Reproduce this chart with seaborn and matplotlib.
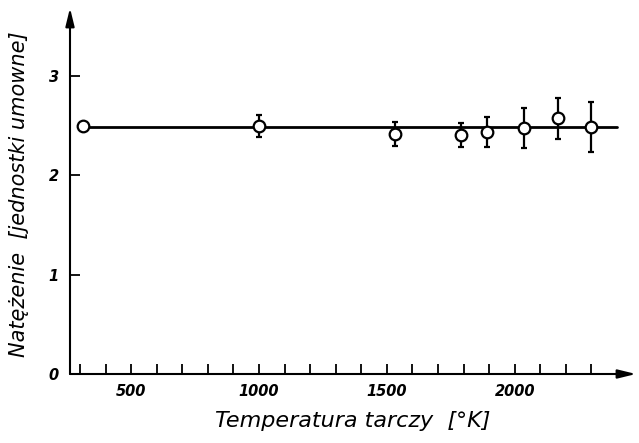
import matplotlib
matplotlib.use("Agg")
import matplotlib.pyplot as plt
import seaborn as sns
import pandas as pd

# Measured intensity vs. target temperature
temperature = [310, 1000, 1530, 1790, 1890, 2035, 2170, 2300]
intensity = [2.49, 2.49, 2.41, 2.40, 2.43, 2.47, 2.57, 2.48]
error = [0.0, 0.11, 0.12, 0.12, 0.15, 0.20, 0.21, 0.25]
mean_level = 2.48
line_span = [310, 2400]

x_ticks = list(range(300, 2301, 100))
x_labelled = [500, 1000, 1500, 2000]
y_ticks = [0, 1, 2, 3]

df = pd.DataFrame({"T": temperature, "I": intensity, "err": error})
line_df = pd.DataFrame({"T": line_span, "I": [mean_level] * 2})

sns.set_theme(style="white")
plt.rcParams["font.family"] = ["DejaVu Sans"]
plt.rcParams["text.color"] = "black"
plt.rcParams["axes.labelcolor"] = "black"
plt.rcParams["xtick.color"] = "black"
plt.rcParams["ytick.color"] = "black"

fig = plt.figure(figsize=(6.39, 4.43), dpi=100)
ax = fig.add_axes([70 / 639, 1 - 374 / 443, 566 / 639, 366 / 443])

sns.lineplot(data=line_df, x="T", y="I", ax=ax, color="black", linewidth=2.0, zorder=2)

ax.errorbar(df["T"], df["I"], yerr=df["err"], fmt="none", ecolor="black",
            elinewidth=1.6, capsize=2.5, capthick=1.6, zorder=3)
sns.scatterplot(data=df, x="T", y="I", ax=ax, marker="o", s=70, facecolor="white",
                edgecolor="black", linewidth=1.6, zorder=4)

ax.set_xlim(261, 2474)
ax.set_ylim(0, 3.68)

for s in ax.spines.values():
    s.set_visible(False)

# arrowed axes
arrow = dict(arrowstyle="-|>,head_length=0.9,head_width=0.22",
             color="black", lw=1.5, shrinkA=0, shrinkB=0)
ax.annotate("", xy=(1.0, 0), xytext=(0, 0), xycoords="axes fraction", arrowprops=arrow)
ax.annotate("", xy=(0, 1.0), xytext=(0, 0), xycoords="axes fraction", arrowprops=arrow)

ax.set_xticks(x_ticks)
ax.set_xticklabels([str(t) if t in x_labelled else "" for t in x_ticks])
ax.set_yticks(y_ticks)
ax.set_yticklabels([str(v) for v in y_ticks])
ax.tick_params(axis="both", direction="in", length=7, width=1.3, color="black",
               bottom=True, left=True, labelsize=10.5, pad=7)
ax.tick_params(axis="y", pad=8)
for lab in ax.get_xticklabels() + ax.get_yticklabels():
    lab.set_style("italic")
    lab.set_fontweight("bold")

ax.set_xlabel("Temperatura tarczy  [°K]", fontsize=16, style="italic")
ax.xaxis.set_label_coords(0.5, -0.1)
ax.set_ylabel("Natężenie  [jednostki umowne]", fontsize=15, style="italic")
ax.yaxis.set_label_coords(-0.072, 0.49)

fig.savefig("out.png", dpi=100, facecolor="white")
